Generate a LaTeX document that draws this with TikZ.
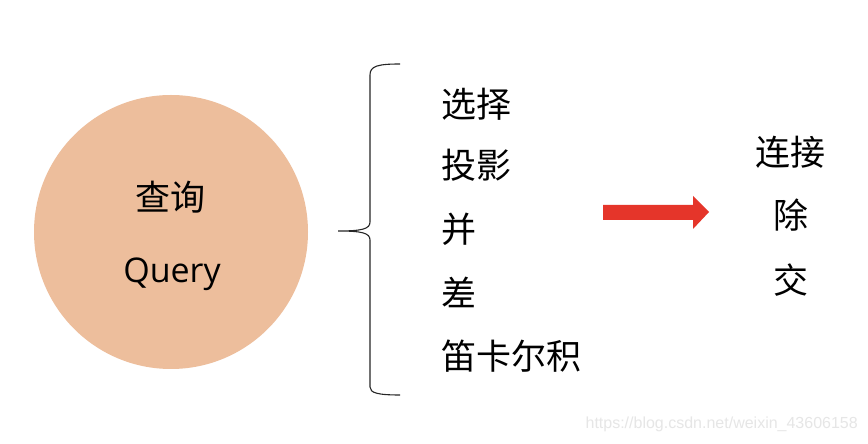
\documentclass[tikz,border=0pt]{standalone}
\usepackage{fontspec}
\setmainfont{Open Sans}
\newfontfamily\cjk{Noto Sans CJK SC}
\newfontfamily\wm{Liberation Sans}
\definecolor{peach}{HTML}{EDBE9C}
\definecolor{arrowred}{HTML}{E5352A}
\definecolor{wmgray}{HTML}{E6E6E6}
\begin{document}
\begin{tikzpicture}[x=1pt,y=1pt,
  lbl/.style={inner sep=0pt,font=\cjk\fontsize{35}{40}\selectfont,text=black},
  item/.style={lbl,anchor=west}]
\useasboundingbox (0,0) rectangle (868,444);
\fill[white] (0,0) rectangle (868,444);
% circle
\node[circle,fill=peach,minimum size=274pt,inner sep=0pt] (q) at (171,212) {};
\node[lbl] (qcn) at (170,247) {查询};
\node[inner sep=0pt,font=\fontsize{34}{40}\selectfont,anchor=base] (qen) at (172,161) {Query};
% brace
\coordinate (btop) at (400,380);
\coordinate (btip) at (338,213);
\coordinate (bbot) at (400,49);
\draw[line width=1.1pt,black!85] (btop) .. controls (378,380) and (370,378) .. (370,369)
  -- (370,222) .. controls (370,215) and (362,213) .. (btip)
  .. controls (362,213) and (370,211) .. (370,204)
  -- (370,57) .. controls (370,51) and (378,49) .. (bbot);
% items
\node[item] (s1) at (441,340) {选择};
\node[item] (s2) at (441,279) {投影};
\node[item] (s3) at (441,215) {并};
\node[item] (s4) at (441,152) {差};
\node[item] (s5) at (441,88) {笛卡尔积};
% arrow
\fill[arrowred] (603,239) -- (693,239) -- (693,248) -- (709,232) -- (693,215) -- (693,224) -- (603,224) -- cycle;
% right items
\node[lbl] (r1) at (790,292) {连接};
\node[lbl] (r2) at (791,229) {除};
\node[lbl] (r3) at (791,164) {交};
% watermark
\node[inner sep=0pt,anchor=base east,font=\wm\fontsize{16}{18}\selectfont,text=wmgray] (wm) at (858,15) {https://blog.csdn.net/weixin\_43606158};
\end{tikzpicture}
\end{document}
